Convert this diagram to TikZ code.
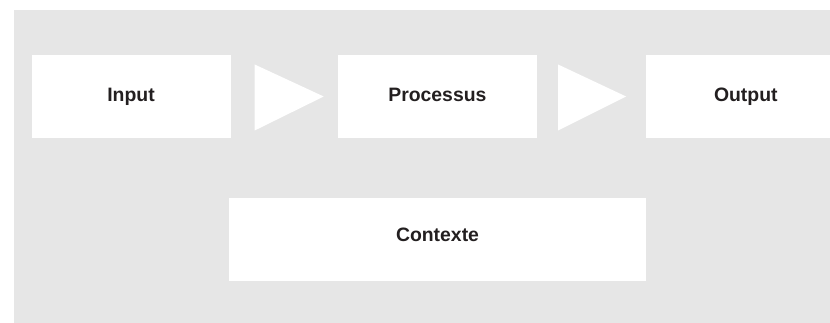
\documentclass[tikz,border=0pt]{standalone}
\usepackage{fontspec}
\setmainfont{Liberation Sans}
\usetikzlibrary{positioning}

\definecolor{fondgris}{HTML}{E6E6E6}
\definecolor{texte}{HTML}{231F20}

\tikzset{
	boite/.style={fill=white, inner sep=0pt, minimum width=199pt, minimum height=83pt,
		font=\fontsize{19.4}{23}\bfseries\selectfont, text=texte,
		text height=11pt, text depth=0pt},
	fleche/.style={fill=white}
}

\begin{document}
\begin{tikzpicture}[x=1pt, y=-1pt]
	\useasboundingbox (0,0) rectangle (830,323);
	\clip (0,0) rectangle (830,323);
	\fill [fondgris] (14,10) rectangle (830,323);
	% top row
	\node [boite] (input) at (131,96.5) {Input};
	\node [boite, right=107pt of input] (processus) {Processus};
	\node [boite, right=109pt of processus] (output) {Output};
	% triangles between the boxes
	\fill [fleche] ([xshift=24pt,yshift=32pt]input.east) -- ([xshift=24pt,yshift=-34pt]input.east)
		-- ([xshift=-14pt]processus.west) -- cycle;
	\fill [fleche] ([xshift=21pt,yshift=32pt]processus.east) -- ([xshift=21pt,yshift=-34pt]processus.east)
		-- ([xshift=-20pt]output.west) -- cycle;
	% bottom box
	\node [boite, minimum width=417pt] (contexte) at (437.5,239.5) {};
	\node [boite, fill=none, minimum width=0pt, minimum height=0pt] (contexte-txt)
		at ([yshift=4pt]contexte.center) {Contexte};
\end{tikzpicture}
\end{document}
